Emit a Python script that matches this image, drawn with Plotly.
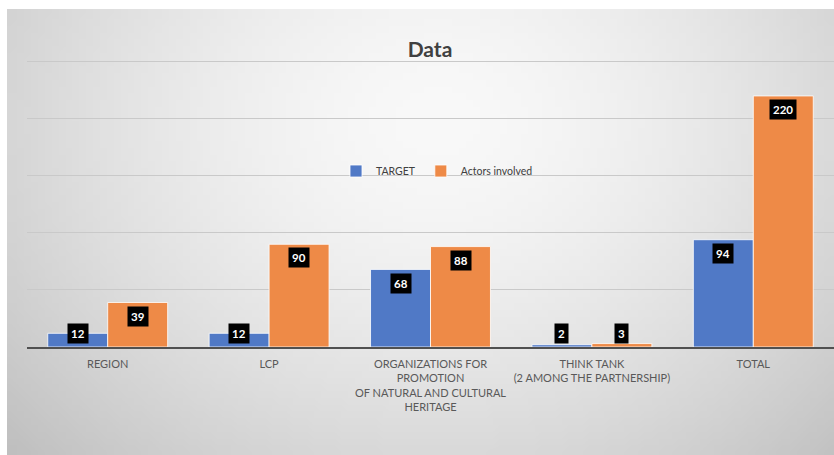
import base64, struct, zlib, math
import plotly.graph_objects as go

categories = ["REGION", "LCP", "ORGANIZATIONS FOR<br>PROMOTION<br>OF NATURAL AND CULTURAL<br>HERITAGE",
              "THINK TANK<br>(2 AMONG THE PARTNERSHIP)", "TOTAL"]
target = [12, 12, 68, 2, 94]
actors = [39, 90, 88, 3, 220]
series_names = ["TARGET", "Actors involved"]

BLUE = "#5079c6"
ORANGE = "#ee8a47"
FONT = "Lato, Open Sans, sans-serif"


def gradient_png(w=120, h=66):
    rows = []
    for j in range(h):
        row = bytearray([0])
        for i in range(w):
            dx = (i / (w - 1) - 0.52) / 0.62
            dy = (j / (h - 1) - 0.25) / 0.95
            d = math.sqrt(dx * dx + dy * dy)
            v = 249 - 46 * min(d, 1.2) ** 1.6
            row.append(max(0, min(255, int(v))))
        rows.append(bytes(row))
    raw = b"".join(rows)

    def chunk(t, data):
        c = struct.pack(">I", len(data)) + t + data
        return c + struct.pack(">I", zlib.crc32(t + data) & 0xffffffff)

    png = b"\x89PNG\r\n\x1a\n"
    png += chunk(b"IHDR", struct.pack(">IIBBBBB", w, h, 8, 0, 0, 0, 0))
    png += chunk(b"IDAT", zlib.compress(raw, 9))
    png += chunk(b"IEND", b"")
    return "data:image/png;base64," + base64.b64encode(png).decode()


W, H = 834, 455
ML, MR, MT, MB = 27, 0, 56, 108
pw, ph = W - ML - MR, H - MT - MB

fig = go.Figure()
fig.add_trace(go.Bar(name=series_names[0], x=categories, y=target, marker=dict(color=BLUE, line=dict(color="rgba(255,255,255,0.8)", width=1))))
fig.add_trace(go.Bar(name=series_names[1], x=categories, y=actors, marker=dict(color=ORANGE, line=dict(color="rgba(255,255,255,0.8)", width=1))))

annotations = []
for vals, shift in ((target, -30), (actors, 30)):
    for c, v in zip(categories, vals):
        annotations.append(dict(
            x=c, y=max(v - 12, 11.5), xref="x", yref="y", xshift=shift,
            text=f"<b>{v}</b>", showarrow=False,
            font=dict(family=FONT, size=11.5, color="white"),
            bgcolor="black", borderpad=3, yanchor="middle", xanchor="center"))

fig.update_layout(
    width=W, height=H,
    margin=dict(l=ML, r=MR, t=MT, b=MB),
    paper_bgcolor="white",
    plot_bgcolor="rgba(0,0,0,0)",
    barmode="group", bargap=0.257, bargroupgap=0.0,
    title=dict(text="<b>Data</b>", x=430 / W, xanchor="center", y=1 - 50 / H, yanchor="middle",
               font=dict(family=FONT, size=21, color="#404040")),
    legend=dict(orientation="h", x=(336 - ML) / pw, y=(347 - 171) / ph, xanchor="left", yanchor="middle",
                bgcolor="rgba(0,0,0,0)", font=dict(family=FONT, size=10.5, color="#404040"),
                itemwidth=30, traceorder="normal"),
    font=dict(family=FONT, color="#595959"),
    annotations=annotations,
    images=[dict(source=gradient_png(), xref="paper", yref="paper",
                 x=(7 - ML) / pw, y=1 + (MT - 9) / ph,
                 sizex=(W - 7) / pw, sizey=(H - 9) / ph,
                 sizing="stretch", layer="below", xanchor="left", yanchor="top")],
)
fig.update_xaxes(showline=True, linecolor="#505050", linewidth=1.5, ticks="",
                 tickfont=dict(family=FONT, size=11, color="#595959"), showgrid=False,
                 ticklabelstandoff=6)
fig.update_yaxes(range=[0, 255], showticklabels=False, showgrid=True, gridcolor="#c9c9c9",
                 gridwidth=1, zeroline=False, tick0=0, dtick=50)

fig.write_html("out.html")
